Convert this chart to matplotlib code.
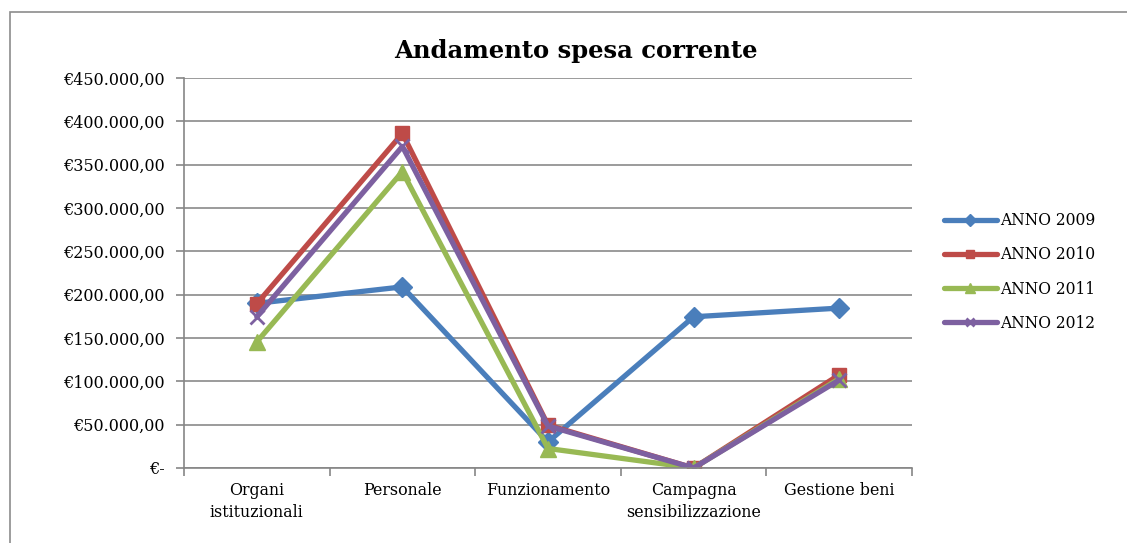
import matplotlib
matplotlib.use("Agg")
import matplotlib.pyplot as plt
from matplotlib.patches import Rectangle

# dati
categorie = ["Organi\nistituzionali", "Personale", "Funzionamento",
             "Campagna\nsensibilizzazione", "Gestione beni"]
anno_2009 = [190000, 209000, 30000, 174500, 184500]
anno_2010 = [189500, 386000, 49500, 0, 107500]
anno_2011 = [145500, 342000, 22500, 0, 103000]
anno_2012 = [174500, 371000, 48500, 0, 101500]
serie = ["ANNO 2009", "ANNO 2010", "ANNO 2011", "ANNO 2012"]
y_ticks = [0, 50000, 100000, 150000, 200000, 250000, 300000, 350000, 400000, 450000]
y_tick_labels = ["€-", "€50.000,00", "€100.000,00", "€150.000,00", "€200.000,00",
                 "€250.000,00", "€300.000,00", "€350.000,00", "€400.000,00",
                 "€450.000,00"]

colori = ["#4A7EBB", "#BE4B48", "#98B954", "#7D60A0"]
marker = ["D", "s", "^", "x"]
msize = [10, 10, 12, 10]

plt.rcParams['font.family'] = ['DejaVu Serif']

fig = plt.figure(figsize=(11.27, 5.43), dpi=100)
ax = fig.add_axes([184 / 1127, 1 - 468 / 543, (912 - 184) / 1127, (468 - 78) / 543])

# bordo del grafico
fig.patches.append(Rectangle((10 / 1127, -0.05), 1.2, 1 - 12 / 543 + 0.05,
                             transform=fig.transFigure, fill=False,
                             edgecolor="#8C8C8C", linewidth=1.2))

x = list(range(len(categorie)))
for vals, nome, c, m, ms in zip([anno_2009, anno_2010, anno_2011, anno_2012],
                                serie, colori, marker, msize):
    ax.plot(x, vals, color=c, linewidth=3.8, marker=m, markersize=ms,
            markeredgewidth=2 if m == "x" else 1, markeredgecolor=c,
            markerfacecolor=c, label=nome, solid_capstyle="round")

ax.set_xlim(-0.5, len(categorie) - 0.5)
ax.set_ylim(0, 450000)
ax.set_yticks(y_ticks)
ax.set_yticklabels(y_tick_labels, fontsize=11.5)
ax.set_xticks(x)
ax.set_xticklabels(categorie, fontsize=11.4, linespacing=1.4)
ax.set_xticks([i - 0.5 for i in range(len(categorie) + 1)], minor=True)
ax.tick_params(axis="x", which="major", length=0, pad=10)
ax.tick_params(axis="x", which="minor", length=6, color="#868686", width=1.2)
ax.tick_params(axis="y", length=6, color="#868686", width=1.2, pad=8)

ax.grid(axis="y", color="#8A8A8A", linewidth=1.2)
ax.set_axisbelow(True)
for s in ["top", "right"]:
    ax.spines[s].set_visible(False)
for s in ["left", "bottom"]:
    ax.spines[s].set_color("#868686")
    ax.spines[s].set_linewidth(1.2)

fig.text(576 / 1127, 1 - 51 / 543, "Andamento spesa corrente", ha="center",
         va="center", fontsize=17.5, fontweight="bold")

ax.legend(loc="center left", bbox_to_anchor=(0.825, 1 - 272 / 543),
          bbox_transform=fig.transFigure, frameon=False, fontsize=11.2,
          handlelength=3.4, handletextpad=0.2, labelspacing=1.1, markerscale=0.6)

fig.savefig("out.png", dpi=100)
